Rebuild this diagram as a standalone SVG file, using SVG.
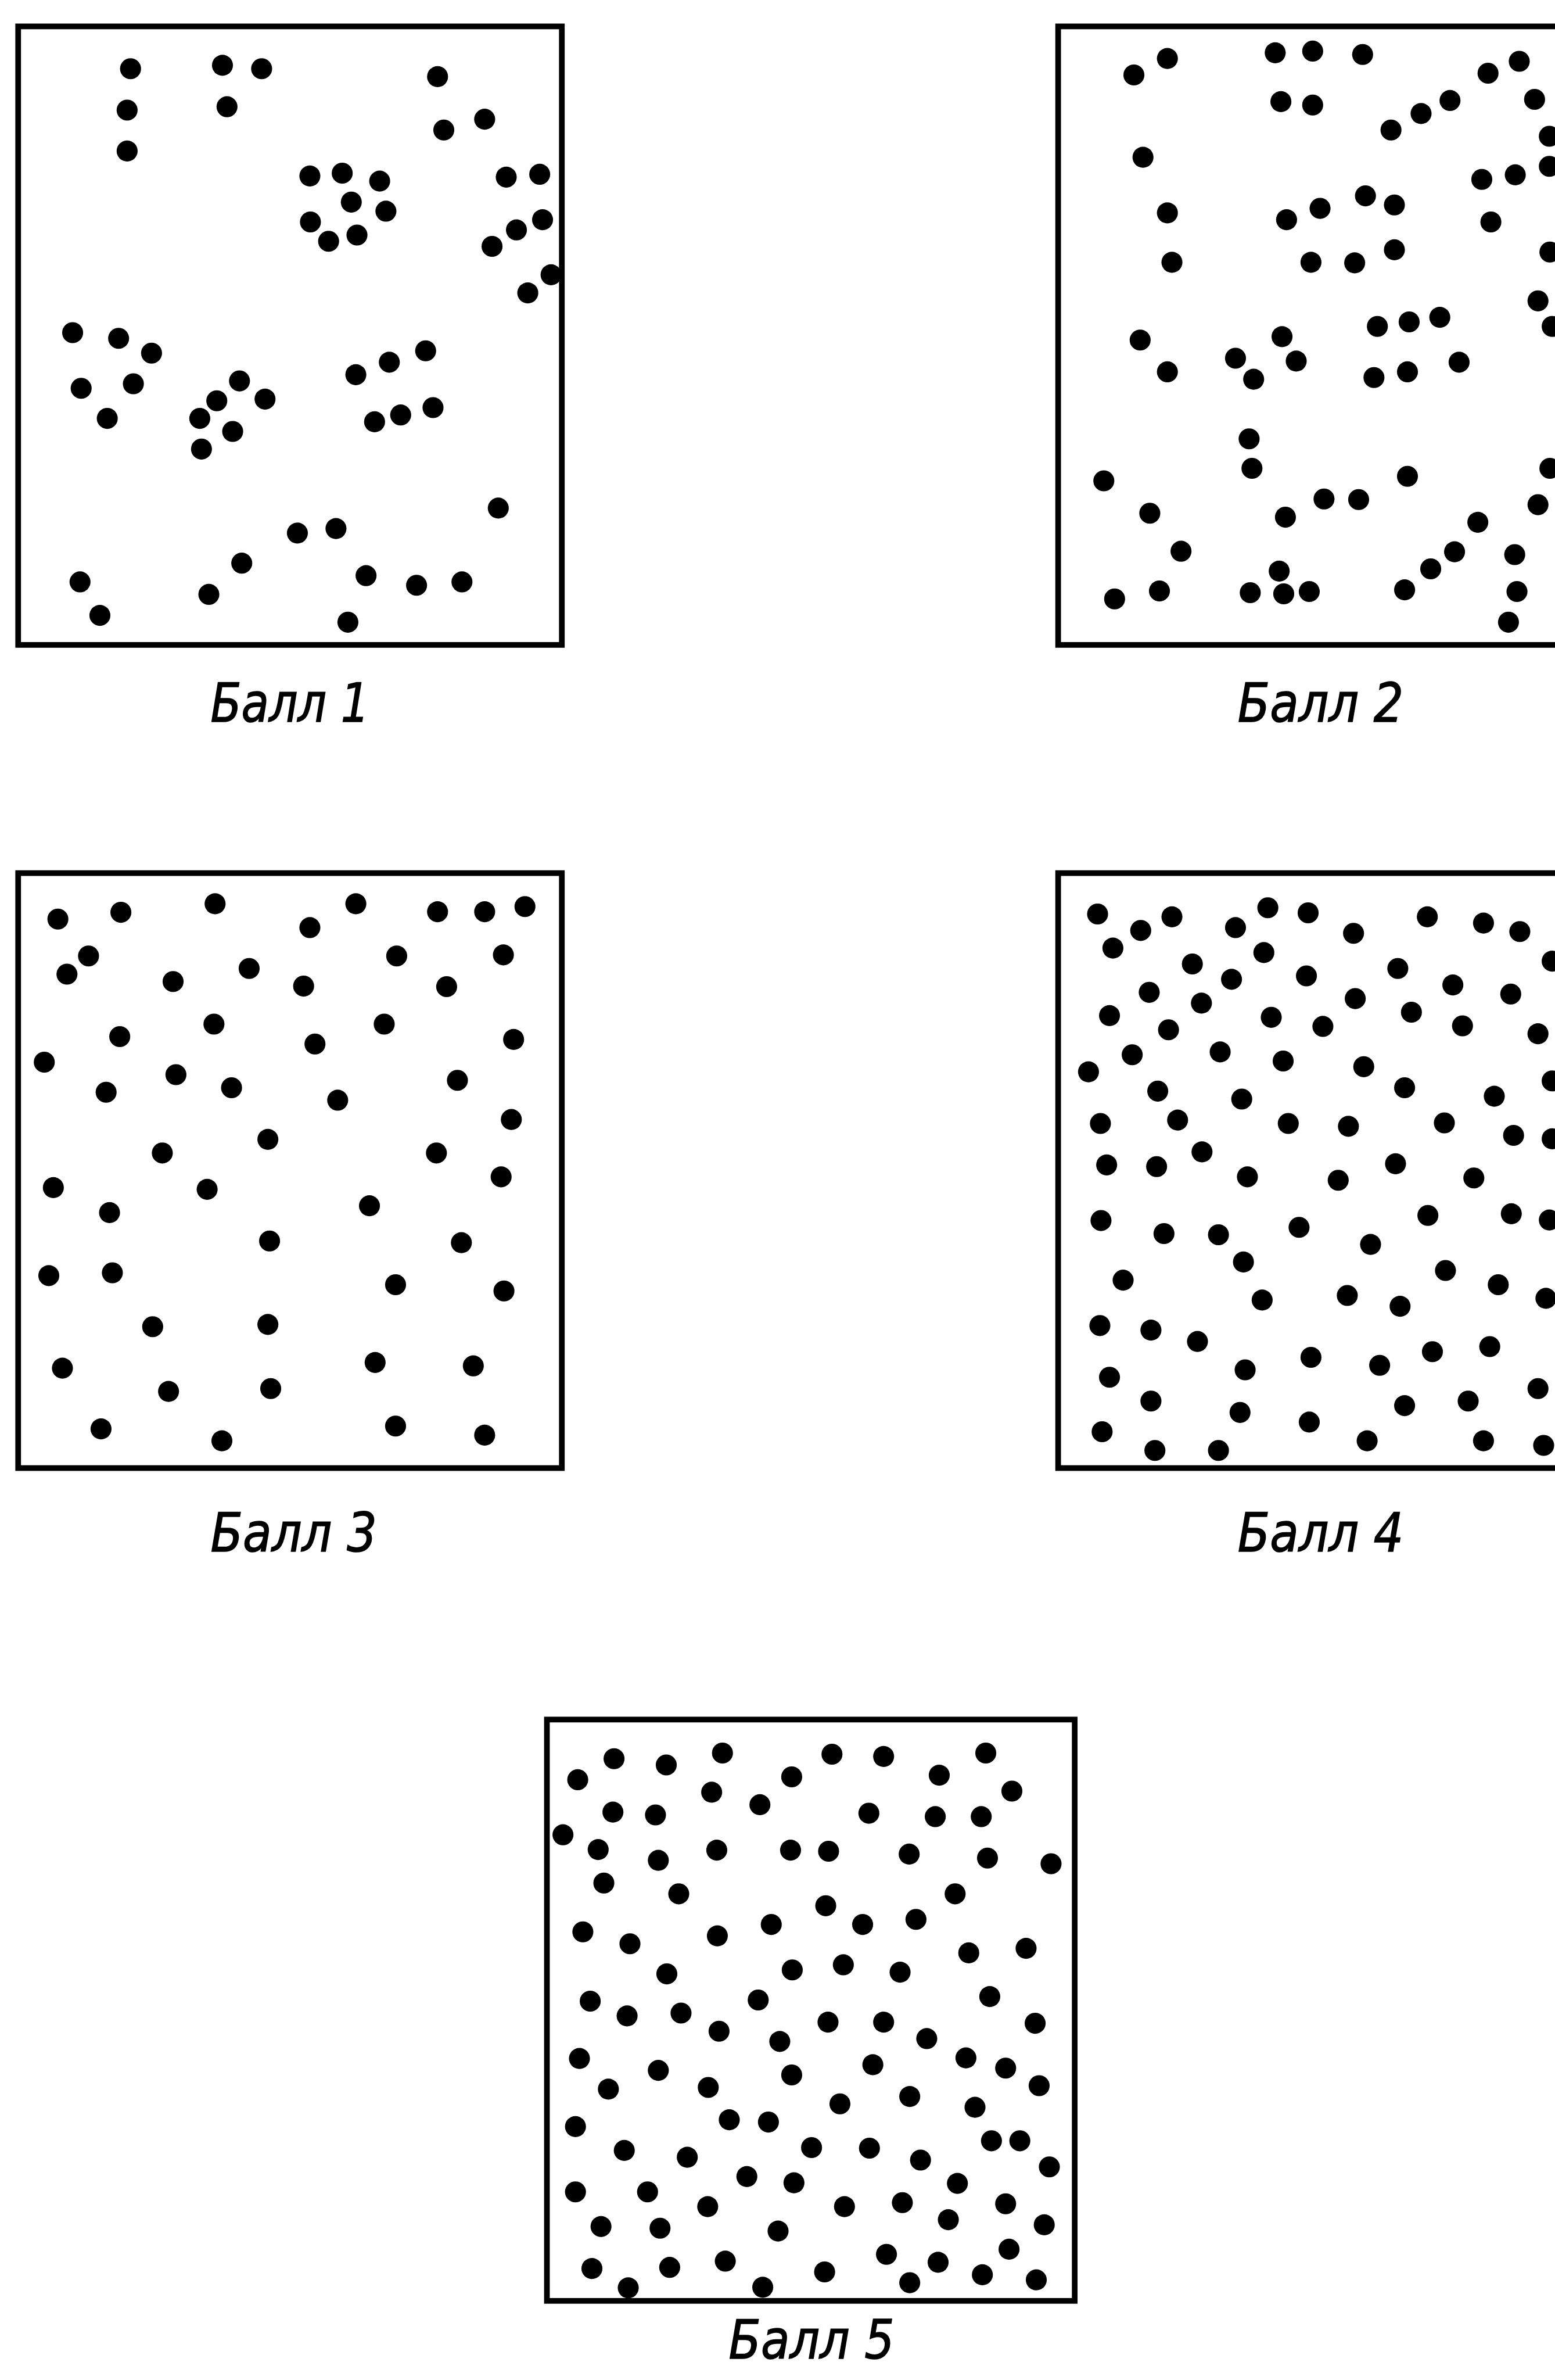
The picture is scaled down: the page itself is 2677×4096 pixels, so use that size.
<svg xmlns="http://www.w3.org/2000/svg" width="2677" height="4096" viewBox="0 0 2677 4096">
<style>
.frame{fill:none;stroke:#000;stroke-width:10}
.dots circle{fill:#000}
.label{font-family:'DejaVu Sans Condensed','DejaVu Sans',sans-serif;font-style:oblique;font-size:95px;fill:#000;stroke:#000;stroke-width:1.5}
</style>
<rect width="2677" height="4096" fill="#fff"/>
<g transform="scale(0.97701)">
<g id="box1">
<rect class="frame" x="32" y="46.5" width="958" height="1089.5"/>
<g class="dots">
<circle cx="230" cy="121" r="18.5"/><circle cx="392" cy="115" r="18.5"/><circle cx="461" cy="121" r="18.5"/><circle cx="771" cy="135" r="18.5"/><circle cx="224" cy="194" r="18.5"/><circle cx="400" cy="188" r="18.5"/><circle cx="854" cy="210" r="18.5"/><circle cx="782" cy="229" r="18.5"/><circle cx="224" cy="266" r="18.5"/><circle cx="546" cy="310" r="18.5"/><circle cx="603" cy="305" r="18.5"/><circle cx="669" cy="319" r="18.5"/><circle cx="892" cy="312" r="18.5"/><circle cx="951" cy="307" r="18.5"/><circle cx="619" cy="356" r="18.5"/><circle cx="680" cy="372" r="18.5"/><circle cx="956" cy="387" r="18.5"/><circle cx="547" cy="391" r="18.5"/><circle cx="910" cy="405" r="18.5"/><circle cx="629" cy="414" r="18.5"/><circle cx="579" cy="425" r="18.5"/><circle cx="867" cy="434" r="18.5"/><circle cx="971" cy="484" r="18.5"/><circle cx="930" cy="516" r="18.5"/><circle cx="128" cy="586" r="18.5"/><circle cx="209" cy="596" r="18.5"/><circle cx="267" cy="622" r="18.5"/><circle cx="750" cy="618" r="18.5"/><circle cx="686" cy="638" r="18.5"/><circle cx="627" cy="660" r="18.5"/><circle cx="143" cy="684" r="18.5"/><circle cx="235" cy="676" r="18.5"/><circle cx="422" cy="671" r="18.5"/><circle cx="382" cy="706" r="18.5"/><circle cx="467" cy="703" r="18.5"/><circle cx="189" cy="737" r="18.5"/><circle cx="352" cy="737" r="18.5"/><circle cx="410" cy="760" r="18.5"/><circle cx="355" cy="791" r="18.5"/><circle cx="660" cy="743" r="18.5"/><circle cx="706" cy="731" r="18.5"/><circle cx="763" cy="718" r="18.5"/><circle cx="878" cy="895" r="18.5"/><circle cx="524" cy="939" r="18.5"/><circle cx="592" cy="931" r="18.5"/><circle cx="426" cy="992" r="18.5"/><circle cx="141" cy="1025" r="18.5"/><circle cx="368" cy="1047" r="18.5"/><circle cx="645" cy="1014" r="18.5"/><circle cx="734" cy="1031" r="18.5"/><circle cx="814" cy="1025" r="18.5"/><circle cx="176" cy="1084" r="18.5"/><circle cx="613" cy="1096" r="18.5"/>
</g>
<text class="label" x="371" y="1271" textLength="280" lengthAdjust="spacingAndGlyphs">Балл 1</text>
</g>
<g id="box2">
<rect class="frame" x="1864.5" y="46.5" width="958" height="1089.5"/>
<g class="dots">
<circle cx="1998" cy="132" r="18.5"/><circle cx="2057" cy="103" r="18.5"/><circle cx="2247" cy="93" r="18.5"/><circle cx="2313" cy="90" r="18.5"/><circle cx="2401" cy="96" r="18.5"/><circle cx="2622" cy="129" r="18.5"/><circle cx="2677" cy="108" r="18.5"/><circle cx="2257" cy="179" r="18.5"/><circle cx="2313" cy="185" r="18.5"/><circle cx="2555" cy="177" r="18.5"/><circle cx="2504" cy="200" r="18.5"/><circle cx="2451" cy="229" r="18.5"/><circle cx="2704" cy="175" r="18.5"/><circle cx="2730" cy="240" r="18.5"/><circle cx="2014" cy="277" r="18.5"/><circle cx="2730" cy="293" r="18.5"/><circle cx="2611" cy="316" r="18.5"/><circle cx="2670" cy="308" r="18.5"/><circle cx="2057" cy="375" r="18.5"/><circle cx="2406" cy="345" r="18.5"/><circle cx="2457" cy="361" r="18.5"/><circle cx="2326" cy="367" r="18.5"/><circle cx="2267" cy="387" r="18.5"/><circle cx="2627" cy="391" r="18.5"/><circle cx="2731" cy="444" r="18.5"/><circle cx="2065" cy="462" r="18.5"/><circle cx="2310" cy="462" r="18.5"/><circle cx="2387" cy="463" r="18.5"/><circle cx="2457" cy="440" r="18.5"/><circle cx="2710" cy="530" r="18.5"/><circle cx="2735" cy="575" r="18.5"/><circle cx="2427" cy="575" r="18.5"/><circle cx="2483" cy="567" r="18.5"/><circle cx="2537" cy="559" r="18.5"/><circle cx="2009" cy="599" r="18.5"/><circle cx="2259" cy="593" r="18.5"/>
<circle cx="2177" cy="631" r="18.5"/><circle cx="2284" cy="636" r="18.5"/><circle cx="2057" cy="655" r="18.5"/><circle cx="2209" cy="668" r="18.5"/><circle cx="2421" cy="665" r="18.5"/><circle cx="2480" cy="655" r="18.5"/><circle cx="2571" cy="638" r="18.5"/><circle cx="2201" cy="773" r="18.5"/><circle cx="2206" cy="825" r="18.5"/><circle cx="1945" cy="847" r="18.5"/><circle cx="2480" cy="839" r="18.5"/><circle cx="2731" cy="825" r="18.5"/><circle cx="2333" cy="879" r="18.5"/><circle cx="2394" cy="880" r="18.5"/><circle cx="2710" cy="889" r="18.5"/><circle cx="2026" cy="904" r="18.5"/><circle cx="2265" cy="911" r="18.5"/><circle cx="2604" cy="920" r="18.5"/><circle cx="2081" cy="971" r="18.5"/><circle cx="2563" cy="972" r="18.5"/><circle cx="2669" cy="977" r="18.5"/><circle cx="2521" cy="1002" r="18.5"/><circle cx="2254" cy="1006" r="18.5"/><circle cx="1964" cy="1055" r="18.5"/><circle cx="2043" cy="1041" r="18.5"/><circle cx="2203" cy="1044" r="18.5"/><circle cx="2262" cy="1046" r="18.5"/><circle cx="2307" cy="1042" r="18.5"/><circle cx="2475" cy="1039" r="18.5"/><circle cx="2673" cy="1042" r="18.5"/><circle cx="2658" cy="1096" r="18.5"/>
</g>
<text class="label" x="2181" y="1271" textLength="292" lengthAdjust="spacingAndGlyphs">Балл 2</text>
</g>
<g id="box3">
<rect class="frame" x="32" y="1538" width="958" height="1048"/>
<g class="dots">
<circle cx="102" cy="1619" r="18.5"/><circle cx="213" cy="1607" r="18.5"/><circle cx="379" cy="1592" r="18.5"/><circle cx="627" cy="1592" r="18.5"/><circle cx="771" cy="1606" r="18.5"/><circle cx="854" cy="1606" r="18.5"/><circle cx="925" cy="1597" r="18.5"/><circle cx="546" cy="1634" r="18.5"/><circle cx="156" cy="1684" r="18.5"/><circle cx="118" cy="1716" r="18.5"/><circle cx="305" cy="1729" r="18.5"/><circle cx="439" cy="1706" r="18.5"/><circle cx="535" cy="1737" r="18.5"/><circle cx="699" cy="1684" r="18.5"/><circle cx="887" cy="1682" r="18.5"/><circle cx="787" cy="1738" r="18.5"/><circle cx="377" cy="1804" r="18.5"/><circle cx="211" cy="1826" r="18.5"/><circle cx="677" cy="1804" r="18.5"/><circle cx="555" cy="1839" r="18.5"/><circle cx="905" cy="1831" r="18.5"/><circle cx="78" cy="1871" r="18.5"/><circle cx="310" cy="1893" r="18.5"/><circle cx="187" cy="1924" r="18.5"/><circle cx="408" cy="1916" r="18.5"/><circle cx="595" cy="1938" r="18.5"/><circle cx="806" cy="1903" r="18.5"/><circle cx="901" cy="1972" r="18.5"/><circle cx="472" cy="2007" r="18.5"/><circle cx="286" cy="2031" r="18.5"/><circle cx="769" cy="2031" r="18.5"/><circle cx="883" cy="2073" r="18.5"/><circle cx="94" cy="2092" r="18.5"/><circle cx="365" cy="2095" r="18.5"/>
<circle cx="651" cy="2124" r="18.5"/><circle cx="193" cy="2136" r="18.5"/><circle cx="475" cy="2186" r="18.5"/><circle cx="813" cy="2189" r="18.5"/><circle cx="86" cy="2247" r="18.5"/><circle cx="198" cy="2242" r="18.5"/><circle cx="697" cy="2263" r="18.5"/><circle cx="888" cy="2274" r="18.5"/><circle cx="269" cy="2337" r="18.5"/><circle cx="472" cy="2333" r="18.5"/><circle cx="110" cy="2410" r="18.5"/><circle cx="661" cy="2400" r="18.5"/><circle cx="834" cy="2406" r="18.5"/><circle cx="297" cy="2451" r="18.5"/><circle cx="477" cy="2446" r="18.5"/><circle cx="178" cy="2517" r="18.5"/><circle cx="391" cy="2538" r="18.5"/><circle cx="697" cy="2512" r="18.5"/><circle cx="854" cy="2528" r="18.5"/>
</g>
<text class="label" x="371" y="2733" textLength="293" lengthAdjust="spacingAndGlyphs">Балл 3</text>
</g>
<g id="box4">
<rect class="frame" x="1864.5" y="1538" width="958" height="1048"/>
<g class="dots">
<circle cx="1934" cy="1610" r="18.5"/><circle cx="2010" cy="1639" r="18.5"/><circle cx="2065" cy="1615" r="18.5"/><circle cx="2177" cy="1634" r="18.5"/><circle cx="2234" cy="1599" r="18.5"/><circle cx="2305" cy="1608" r="18.5"/><circle cx="2385" cy="1644" r="18.5"/><circle cx="2515" cy="1615" r="18.5"/><circle cx="2614" cy="1626" r="18.5"/><circle cx="2678" cy="1641" r="18.5"/><circle cx="2735" cy="1693" r="18.5"/><circle cx="1961" cy="1670" r="18.5"/><circle cx="2101" cy="1698" r="18.5"/><circle cx="2227" cy="1678" r="18.5"/><circle cx="2170" cy="1725" r="18.5"/><circle cx="2302" cy="1719" r="18.5"/><circle cx="2463" cy="1706" r="18.5"/><circle cx="2560" cy="1735" r="18.5"/><circle cx="2662" cy="1751" r="18.5"/><circle cx="2025" cy="1748" r="18.5"/><circle cx="2117" cy="1767" r="18.5"/><circle cx="2388" cy="1759" r="18.5"/><circle cx="2487" cy="1783" r="18.5"/><circle cx="1955" cy="1789" r="18.5"/><circle cx="2059" cy="1814" r="18.5"/><circle cx="2240" cy="1792" r="18.5"/><circle cx="2331" cy="1808" r="18.5"/><circle cx="2577" cy="1807" r="18.5"/><circle cx="2710" cy="1821" r="18.5"/><circle cx="1995" cy="1858" r="18.5"/><circle cx="2150" cy="1853" r="18.5"/><circle cx="2261" cy="1869" r="18.5"/><circle cx="2403" cy="1879" r="18.5"/><circle cx="1918" cy="1888" r="18.5"/><circle cx="2735" cy="1904" r="18.5"/><circle cx="2040" cy="1922" r="18.5"/><circle cx="2188" cy="1936" r="18.5"/><circle cx="2475" cy="1916" r="18.5"/><circle cx="2633" cy="1931" r="18.5"/><circle cx="1939" cy="1979" r="18.5"/><circle cx="2075" cy="1973" r="18.5"/><circle cx="2270" cy="1979" r="18.5"/><circle cx="2376" cy="1984" r="18.5"/><circle cx="2545" cy="1978" r="18.5"/><circle cx="2667" cy="2000" r="18.5"/><circle cx="2735" cy="2006" r="18.5"/><circle cx="2118" cy="2029" r="18.5"/><circle cx="1950" cy="2052" r="18.5"/><circle cx="2038" cy="2055" r="18.5"/><circle cx="2198" cy="2073" r="18.5"/><circle cx="2358" cy="2079" r="18.5"/><circle cx="2459" cy="2050" r="18.5"/><circle cx="2597" cy="2075" r="18.5"/>
<circle cx="1940" cy="2150" r="18.5"/><circle cx="2051" cy="2173" r="18.5"/><circle cx="2147" cy="2175" r="18.5"/><circle cx="2289" cy="2162" r="18.5"/><circle cx="2415" cy="2192" r="18.5"/><circle cx="2516" cy="2141" r="18.5"/><circle cx="2663" cy="2138" r="18.5"/><circle cx="2730" cy="2149" r="18.5"/><circle cx="1979" cy="2255" r="18.5"/><circle cx="2191" cy="2223" r="18.5"/><circle cx="2547" cy="2238" r="18.5"/><circle cx="2640" cy="2263" r="18.5"/><circle cx="2724" cy="2287" r="18.5"/><circle cx="2224" cy="2290" r="18.5"/><circle cx="2374" cy="2282" r="18.5"/><circle cx="2467" cy="2301" r="18.5"/><circle cx="1938" cy="2335" r="18.5"/><circle cx="2028" cy="2343" r="18.5"/><circle cx="2110" cy="2363" r="18.5"/><circle cx="2194" cy="2413" r="18.5"/><circle cx="2310" cy="2391" r="18.5"/><circle cx="2431" cy="2405" r="18.5"/><circle cx="2524" cy="2381" r="18.5"/><circle cx="2625" cy="2372" r="18.5"/><circle cx="1955" cy="2426" r="18.5"/><circle cx="2028" cy="2468" r="18.5"/><circle cx="2185" cy="2488" r="18.5"/><circle cx="2307" cy="2505" r="18.5"/><circle cx="2475" cy="2476" r="18.5"/><circle cx="2587" cy="2468" r="18.5"/><circle cx="2710" cy="2446" r="18.5"/><circle cx="1942" cy="2522" r="18.5"/><circle cx="2035" cy="2555" r="18.5"/><circle cx="2147" cy="2555" r="18.5"/><circle cx="2409" cy="2538" r="18.5"/><circle cx="2614" cy="2538" r="18.5"/><circle cx="2720" cy="2546" r="18.5"/>
</g>
<text class="label" x="2181" y="2733" textLength="292" lengthAdjust="spacingAndGlyphs">Балл 4</text>
</g>
<g id="box5">
<rect class="frame" x="963.7" y="3029" width="930" height="1024"/>
<g class="dots">
<circle cx="1018" cy="3135" r="18.5"/><circle cx="1082" cy="3098" r="18.5"/><circle cx="1174" cy="3109" r="18.5"/><circle cx="1273" cy="3088" r="18.5"/><circle cx="1466" cy="3090" r="18.5"/><circle cx="1557" cy="3094" r="18.5"/><circle cx="1737" cy="3088" r="18.5"/><circle cx="1395" cy="3130" r="18.5"/><circle cx="1655" cy="3127" r="18.5"/><circle cx="1783" cy="3155" r="18.5"/><circle cx="1254" cy="3157" r="18.5"/><circle cx="1339" cy="3179" r="18.5"/><circle cx="1080" cy="3192" r="18.5"/><circle cx="1155" cy="3197" r="18.5"/><circle cx="1531" cy="3194" r="18.5"/><circle cx="1648" cy="3200" r="18.5"/><circle cx="1729" cy="3200" r="18.5"/><circle cx="992" cy="3232" r="18.5"/><circle cx="1054" cy="3258" r="18.5"/><circle cx="1160" cy="3277" r="18.5"/><circle cx="1263" cy="3259" r="18.5"/><circle cx="1393" cy="3259" r="18.5"/><circle cx="1460" cy="3261" r="18.5"/><circle cx="1602" cy="3266" r="18.5"/><circle cx="1740" cy="3273" r="18.5"/><circle cx="1852" cy="3283" r="18.5"/><circle cx="1064" cy="3317" r="18.5"/><circle cx="1196" cy="3336" r="18.5"/><circle cx="1455" cy="3357" r="18.5"/><circle cx="1683" cy="3336" r="18.5"/><circle cx="1027" cy="3403" r="18.5"/><circle cx="1110" cy="3424" r="18.5"/><circle cx="1264" cy="3410" r="18.5"/><circle cx="1359" cy="3390" r="18.5"/><circle cx="1520" cy="3390" r="18.5"/><circle cx="1614" cy="3381" r="18.5"/><circle cx="1707" cy="3440" r="18.5"/><circle cx="1808" cy="3432" r="18.5"/><circle cx="1175" cy="3477" r="18.5"/><circle cx="1396" cy="3470" r="18.5"/><circle cx="1486" cy="3461" r="18.5"/><circle cx="1586" cy="3474" r="18.5"/><circle cx="1744" cy="3517" r="18.5"/><circle cx="1040" cy="3525" r="18.5"/><circle cx="1105" cy="3551" r="18.5"/><circle cx="1200" cy="3546" r="18.5"/><circle cx="1336" cy="3523" r="18.5"/><circle cx="1459" cy="3562" r="18.5"/><circle cx="1557" cy="3562" r="18.5"/><circle cx="1824" cy="3564" r="18.5"/><circle cx="1267" cy="3578" r="18.5"/><circle cx="1374" cy="3596" r="18.5"/><circle cx="1633" cy="3591" r="18.5"/>
<circle cx="1021" cy="3626" r="18.5"/><circle cx="1160" cy="3647" r="18.5"/><circle cx="1395" cy="3655" r="18.5"/><circle cx="1538" cy="3637" r="18.5"/><circle cx="1702" cy="3625" r="18.5"/><circle cx="1772" cy="3643" r="18.5"/><circle cx="1831" cy="3674" r="18.5"/><circle cx="1072" cy="3680" r="18.5"/><circle cx="1248" cy="3677" r="18.5"/><circle cx="1480" cy="3706" r="18.5"/><circle cx="1603" cy="3693" r="18.5"/><circle cx="1718" cy="3712" r="18.5"/><circle cx="1014" cy="3746" r="18.5"/><circle cx="1285" cy="3734" r="18.5"/><circle cx="1354" cy="3738" r="18.5"/><circle cx="1747" cy="3771" r="18.5"/><circle cx="1797" cy="3771" r="18.5"/><circle cx="1100" cy="3788" r="18.5"/><circle cx="1211" cy="3800" r="18.5"/><circle cx="1430" cy="3783" r="18.5"/><circle cx="1532" cy="3784" r="18.5"/><circle cx="1622" cy="3805" r="18.5"/><circle cx="1849" cy="3817" r="18.5"/><circle cx="1316" cy="3834" r="18.5"/><circle cx="1399" cy="3845" r="18.5"/><circle cx="1687" cy="3846" r="18.5"/><circle cx="1014" cy="3861" r="18.5"/><circle cx="1141" cy="3861" r="18.5"/><circle cx="1247" cy="3887" r="18.5"/><circle cx="1488" cy="3887" r="18.5"/><circle cx="1590" cy="3880" r="18.5"/><circle cx="1772" cy="3882" r="18.5"/><circle cx="1671" cy="3910" r="18.5"/><circle cx="1840" cy="3919" r="18.5"/><circle cx="1059" cy="3922" r="18.5"/><circle cx="1163" cy="3925" r="18.5"/><circle cx="1371" cy="3930" r="18.5"/><circle cx="1778" cy="3962" r="18.5"/><circle cx="1562" cy="3971" r="18.5"/><circle cx="1043" cy="3996" r="18.5"/><circle cx="1180" cy="3994" r="18.5"/><circle cx="1278" cy="3983" r="18.5"/><circle cx="1653" cy="3985" r="18.5"/><circle cx="1453" cy="4002" r="18.5"/><circle cx="1731" cy="4007" r="18.5"/><circle cx="1826" cy="4016" r="18.5"/><circle cx="1603" cy="4021" r="18.5"/><circle cx="1107" cy="4030" r="18.5"/><circle cx="1344" cy="4029" r="18.5"/>
</g>
<text class="label" x="1284" y="4155" textLength="292" lengthAdjust="spacingAndGlyphs">Балл 5</text>
</g>
<g id="connectors"/>
</g>
</svg>
